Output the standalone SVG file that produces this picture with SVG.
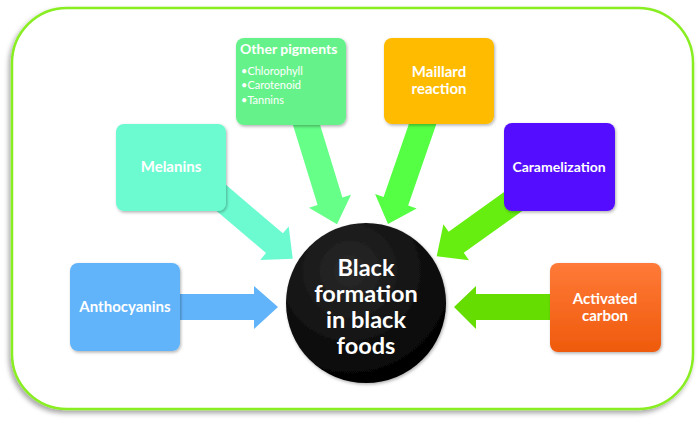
<svg xmlns="http://www.w3.org/2000/svg" width="700" height="424" viewBox="0 0 700 424">
<defs>
<filter id="sh" x="-10%" y="-10%" width="120%" height="125%">
<feDropShadow dx="-2" dy="3" stdDeviation="2.5" flood-color="#000" flood-opacity="0.35"/>
</filter>
<filter id="bs" x="-10%" y="-10%" width="125%" height="125%">
<feDropShadow dx="1" dy="1.5" stdDeviation="1.5" flood-color="#000" flood-opacity="0.3"/>
</filter>
<radialGradient id="ball" cx="0.4" cy="0.3" r="0.75">
<stop offset="0" stop-color="#2a2a2a"/>
<stop offset="1" stop-color="#000"/>
</radialGradient>
<linearGradient id="org" x1="0" y1="0" x2="0" y2="1">
<stop offset="0" stop-color="#ff7a38"/>
<stop offset="1" stop-color="#ef5a0c"/>
</linearGradient>
</defs>
<style>
.box{filter:url(#bs)}
.t{font-family:Lato,"Open Sans","Liberation Sans",sans-serif;font-weight:bold;fill:#fff;text-anchor:middle;font-size:15px}
.s{font-family:Lato,"Open Sans","Liberation Sans",sans-serif;fill:#fff;font-size:11px}
.c{font-family:Lato,"Open Sans","Liberation Sans",sans-serif;font-weight:bold;fill:#fff;text-anchor:middle;font-size:23.5px}
</style>
<rect x="12" y="8" width="681" height="401" rx="55" ry="55" fill="#fff" stroke="#88ee22" stroke-width="2.5" filter="url(#sh)"/>
<g id="connectors">
<polygon fill="#62b4fa" points="180,294 254,294 254,286 278,307 254,329 254,320 180,320"/>
<polygon fill="#66dd00" points="550,294 476,294 476,286 454,307 476,329 476,320 550,320"/>
<polygon fill="#6cfbd0" transform="translate(212,190) rotate(40.4)" points="0,-13 82,-13 82,-22 106,0 82,22 82,13 0,13"/>
<polygon fill="#66ff88" transform="translate(305,120) rotate(72.9)" points="0,-13 85,-13 85,-22 109,0 85,22 85,13 0,13"/>
<polygon fill="#55ff44" transform="translate(424,120) rotate(109.1)" points="0,-13 86,-13 86,-22 110,0 86,22 86,13 0,13"/>
<polygon fill="#66ee11" transform="translate(518,198) rotate(144.4)" points="0,-13 76,-13 76,-22 100,0 76,22 76,13 0,13"/>
</g>
<g id="other">
<rect class="box" x="236" y="38" width="110" height="87" rx="8" fill="#66f28a"/>
<text class="t" x="240" y="54" style="text-anchor:start;font-size:14px">Other pigments</text>
<text class="s" x="241" y="75">•Chlorophyll</text>
<text class="s" x="241" y="89">•Carotenoid</text>
<text class="s" x="241" y="104">•Tannins</text>
</g>
<g id="melanins">
<rect class="box" x="116" y="124" width="110" height="87" rx="8" fill="#6cfbd0"/>
<text class="t" x="171" y="172">Melanins</text>
</g>
<g id="maillard">
<rect class="box" x="384" y="38" width="110" height="86" rx="8" fill="#ffbb00"/>
<text class="t" x="439" y="77">Maillard</text>
<text class="t" x="439" y="94">reaction</text>
</g>
<g id="caramel">
<rect class="box" x="504" y="123" width="111" height="88" rx="8" fill="#5511ff"/>
<text class="t" x="559" y="172" style="font-size:14px">Caramelization</text>
</g>
<g id="antho">
<rect class="box" x="70" y="263" width="110" height="88" rx="8" fill="#62b4fa"/>
<text class="t" x="125" y="312">Anthocyanins</text>
</g>
<g id="carbon">
<rect class="box" x="550" y="263" width="111" height="89" rx="8" fill="url(#org)"/>
<text class="t" x="605" y="304">Activated</text>
<text class="t" x="605" y="321">carbon</text>
</g>
<g id="center">
<circle cx="366" cy="303" r="80" fill="url(#ball)" filter="url(#bs)"/>
<text class="c" x="366" y="276">Black</text>
<text class="c" x="366" y="302">formation</text>
<text class="c" x="366" y="328">in black</text>
<text class="c" x="366" y="354">foods</text>
</g>
</svg>
